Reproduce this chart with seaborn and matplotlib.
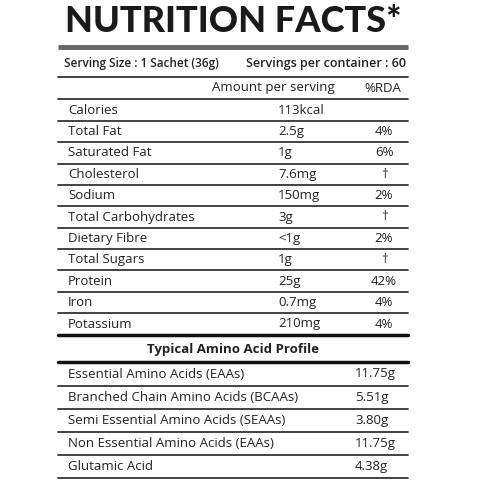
import matplotlib
matplotlib.use("Agg")
import matplotlib.pyplot as plt
import seaborn as sns

# nutrition rows
nutrients = ['Calories', 'Total Fat', 'Saturated Fat', 'Cholesterol', 'Sodium',
             'Total Carbohydrates', 'Dietary Fibre', 'Total Sugars', 'Protein',
             'Iron', 'Potassium']
amounts = ['113kcal', '2.5g', '1g', '7.6mg', '150mg', '3g', '<1g', '1g',
           '25g', '0.7mg', '210mg']
rda = ['', '4%', '6%', '†', '2%', '†', '2%', '†', '42%', '4%', '4%']

# amino acid profile
amino_names = ['Essential Amino Acids (EAAs)', 'Branched Chain Amino Acids (BCAAs)',
               'Semi Essential Amino Acids (SEAAs)', 'Non Essential Amino Acids (EAAs)',
               'Glutamic Acid']
amino_vals = ['11.75g', '5.51g', '3.80g', '11.75g', '4.38g']

sns.set_style("white")
plt.rcParams['font.family'] = ['Open Sans', 'DejaVu Sans']

fig = plt.figure(figsize=(4.8, 4.8), dpi=100)
ax = fig.add_axes([0, 0, 1, 1])
ax.set_xlim(0, 480)
ax.set_ylim(480, 0)
ax.axis('off')

L, R = 58, 408
txt = '#222222'
line_c = '#333333'
fs = 9.5

ax.text(233, 22, 'NUTRITION FACTS*', ha='center', va='center', fontsize=26,
        fontweight='black', family='Lato', color='#1a1a1a')
ax.plot([L, R], [47, 47], color='#666666', lw=3.5, solid_capstyle='butt')
ax.text(64, 63, 'Serving Size : 1 Sachet (36g)', ha='left', va='center',
        fontsize=8.5, fontweight='semibold', color=txt)
ax.text(406, 63, 'Servings per container : 60', ha='right', va='center',
        fontsize=9, fontweight='semibold', color=txt)
ax.plot([L, R], [77, 77], color=line_c, lw=1.3)
ax.text(212, 88, 'Amount per serving', ha='left', va='center', fontsize=fs, color=txt)
ax.text(383, 88, '%RDA', ha='center', va='center', fontsize=fs, color=txt)
ax.plot([L, R], [99, 99], color=line_c, lw=1.3)

step = 21.4
y0 = 110
for i, (n, a, r) in enumerate(zip(nutrients, amounts, rda)):
    y = y0 + i * step
    ax.text(68, y, n, ha='left', va='center', fontsize=fs, color=txt)
    ax.text(278, y, a, ha='left', va='center', fontsize=fs, color=txt)
    ax.text(384, y, r, ha='center', va='center', fontsize=fs, color=txt)
    if i < len(nutrients) - 1:
        ax.plot([L, R], [y + step / 2, y + step / 2], color=line_c, lw=1.3)

ax.plot([L, R], [335, 335], color='#111111', lw=2.5)
ax.text(233, 350, 'Typical Amino Acid Profile', ha='center', va='center',
        fontsize=fs, fontweight='bold', color=txt)
ax.plot([L, R], [362, 362], color='#111111', lw=2.5)

astep = 23.2
for i, (n, v) in enumerate(zip(amino_names, amino_vals)):
    y = 374 + i * astep
    ax.text(68, y, n, ha='left', va='center', fontsize=fs, color=txt)
    ax.text(355, y, v, ha='left', va='center', fontsize=fs, color=txt)
    ax.plot([L, R], [y + astep / 2, y + astep / 2], color=line_c, lw=1.3)

fig.savefig('out.png', dpi=100)
